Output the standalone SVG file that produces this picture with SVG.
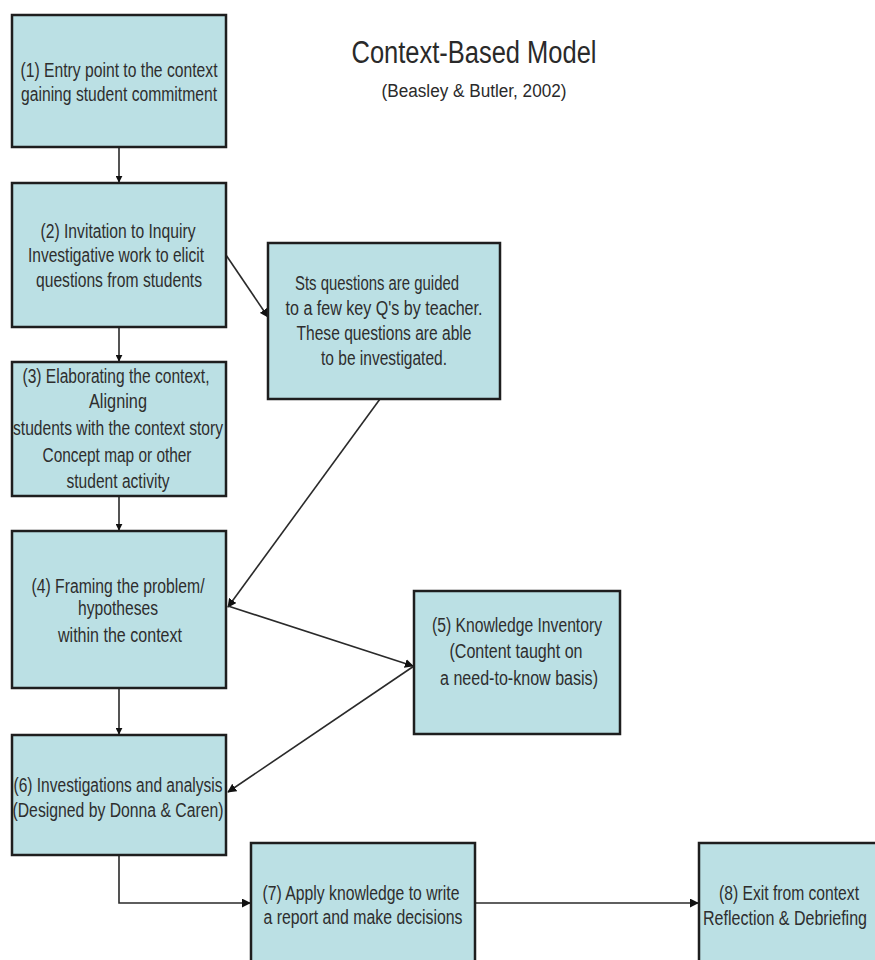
<svg xmlns="http://www.w3.org/2000/svg" width="875" height="960" viewBox="0 0 875 960">
<defs>
<style>
.box{fill:#BBE0E4;stroke:#1e1e1e;stroke-width:2.5}
.t{font-family:"Liberation Sans",Arial,sans-serif;font-size:20px;fill:#2e2e2e;text-anchor:middle}
.ttl{font-family:"Liberation Sans",Arial,sans-serif;fill:#2a2a2a;text-anchor:middle}
.c{fill:none;stroke:#2a2a2a;stroke-width:1.6}
</style>
<marker id="ah" viewBox="0 0 10 10" refX="9" refY="5" markerWidth="7" markerHeight="7" orient="auto" markerUnits="userSpaceOnUse">
<path d="M0,0 L10,5 L0,10 z" fill="#111"/>
</marker>
<marker id="ahs" viewBox="0 0 10 10" refX="9" refY="5" markerWidth="9" markerHeight="9" orient="auto" markerUnits="userSpaceOnUse">
<path d="M0,0 L10,5 L0,10 z" fill="#111"/>
</marker>
</defs>
<rect width="875" height="960" fill="#ffffff"/>

<g id="title">
<text class="ttl" x="474" y="63" font-size="31" textLength="245" lengthAdjust="spacingAndGlyphs">Context-Based Model</text>
<text class="ttl" x="474" y="97" font-size="18" textLength="185" lengthAdjust="spacingAndGlyphs">(Beasley &amp; Butler, 2002)</text>
</g>

<g id="connectors">
<line class="c" x1="119" y1="147" x2="119" y2="182" marker-end="url(#ah)"/>
<line class="c" x1="226" y1="255" x2="268" y2="317" marker-end="url(#ahs)"/>
<line class="c" x1="119" y1="327" x2="119" y2="361" marker-end="url(#ah)"/>
<line class="c" x1="119" y1="496" x2="119" y2="530" marker-end="url(#ah)"/>
<line class="c" x1="380" y1="399" x2="228" y2="607" marker-end="url(#ahs)"/>
<line class="c" x1="228" y1="606" x2="413" y2="666" marker-end="url(#ahs)"/>
<line class="c" x1="414" y1="666" x2="228" y2="792" marker-end="url(#ahs)"/>
<line class="c" x1="119" y1="688" x2="119" y2="734" marker-end="url(#ah)"/>
<polyline class="c" points="119,855 119,903 250,903" marker-end="url(#ahs)"/>
<line class="c" x1="475" y1="903" x2="698" y2="903" marker-end="url(#ahs)"/>
</g>

<g id="n1">
<rect class="box" x="12" y="15" width="214" height="132"/>
<text class="t" x="119" y="77" textLength="197" lengthAdjust="spacingAndGlyphs">(1) Entry point to the context</text>
<text class="t" x="119" y="101" textLength="196" lengthAdjust="spacingAndGlyphs">gaining student commitment</text>
</g>

<g id="n2">
<rect class="box" x="12" y="183" width="214" height="144"/>
<text class="t" x="118" y="238" textLength="155" lengthAdjust="spacingAndGlyphs">(2) Invitation to Inquiry</text>
<text class="t" x="116" y="262" textLength="176" lengthAdjust="spacingAndGlyphs">Investigative work to elicit</text>
<text class="t" x="119" y="287" textLength="166" lengthAdjust="spacingAndGlyphs">questions from students</text>
</g>

<g id="nq">
<rect class="box" x="268" y="243" width="232" height="156"/>
<text class="t" x="377" y="290" textLength="164" lengthAdjust="spacingAndGlyphs">Sts questions are guided</text>
<text class="t" x="384" y="315" textLength="197" lengthAdjust="spacingAndGlyphs">to a few key Q's by teacher.</text>
<text class="t" x="384" y="340" textLength="175" lengthAdjust="spacingAndGlyphs">These questions are able</text>
<text class="t" x="384" y="365" textLength="126" lengthAdjust="spacingAndGlyphs">to be investigated.</text>
</g>

<g id="n3">
<rect class="box" x="12" y="362" width="214" height="134"/>
<text class="t" x="116" y="383" textLength="187" lengthAdjust="spacingAndGlyphs">(3) Elaborating the context,</text>
<text class="t" x="118" y="408" textLength="58" lengthAdjust="spacingAndGlyphs">Aligning</text>
<text class="t" x="118" y="435" textLength="210" lengthAdjust="spacingAndGlyphs">students with the context story</text>
<text class="t" x="117" y="462" textLength="149" lengthAdjust="spacingAndGlyphs">Concept map or other</text>
<text class="t" x="118" y="488" textLength="103" lengthAdjust="spacingAndGlyphs">student activity</text>
</g>

<g id="n4">
<rect class="box" x="12" y="531" width="214" height="157"/>
<text class="t" x="118" y="593" textLength="173" lengthAdjust="spacingAndGlyphs">(4) Framing the problem/</text>
<text class="t" x="118" y="615" textLength="80" lengthAdjust="spacingAndGlyphs">hypotheses</text>
<text class="t" x="120" y="642" textLength="124" lengthAdjust="spacingAndGlyphs">within the context</text>
</g>

<g id="n5">
<rect class="box" x="414" y="591" width="206" height="143"/>
<text class="t" x="517" y="632" textLength="170" lengthAdjust="spacingAndGlyphs">(5) Knowledge Inventory</text>
<text class="t" x="516" y="658" textLength="133" lengthAdjust="spacingAndGlyphs">(Content taught on</text>
<text class="t" x="519" y="685" textLength="158" lengthAdjust="spacingAndGlyphs">a need-to-know basis)</text>
</g>

<g id="n6">
<rect class="box" x="12" y="735" width="214" height="120"/>
<text class="t" x="118" y="792" textLength="209" lengthAdjust="spacingAndGlyphs">(6) Investigations and analysis</text>
<text class="t" x="118" y="817" textLength="211" lengthAdjust="spacingAndGlyphs">(Designed by Donna &amp; Caren)</text>
</g>

<g id="n7">
<rect class="box" x="251" y="843" width="224" height="130"/>
<text class="t" x="361" y="900" textLength="197" lengthAdjust="spacingAndGlyphs">(7) Apply knowledge to write</text>
<text class="t" x="363" y="924" textLength="199" lengthAdjust="spacingAndGlyphs">a report and make decisions</text>
</g>

<g id="n8">
<rect class="box" x="699" y="843" width="190" height="130"/>
<text class="t" x="789" y="900" textLength="140" lengthAdjust="spacingAndGlyphs">(8) Exit from context</text>
<text class="t" x="785" y="925" textLength="164" lengthAdjust="spacingAndGlyphs">Reflection &amp; Debriefing</text>
</g>
</svg>
